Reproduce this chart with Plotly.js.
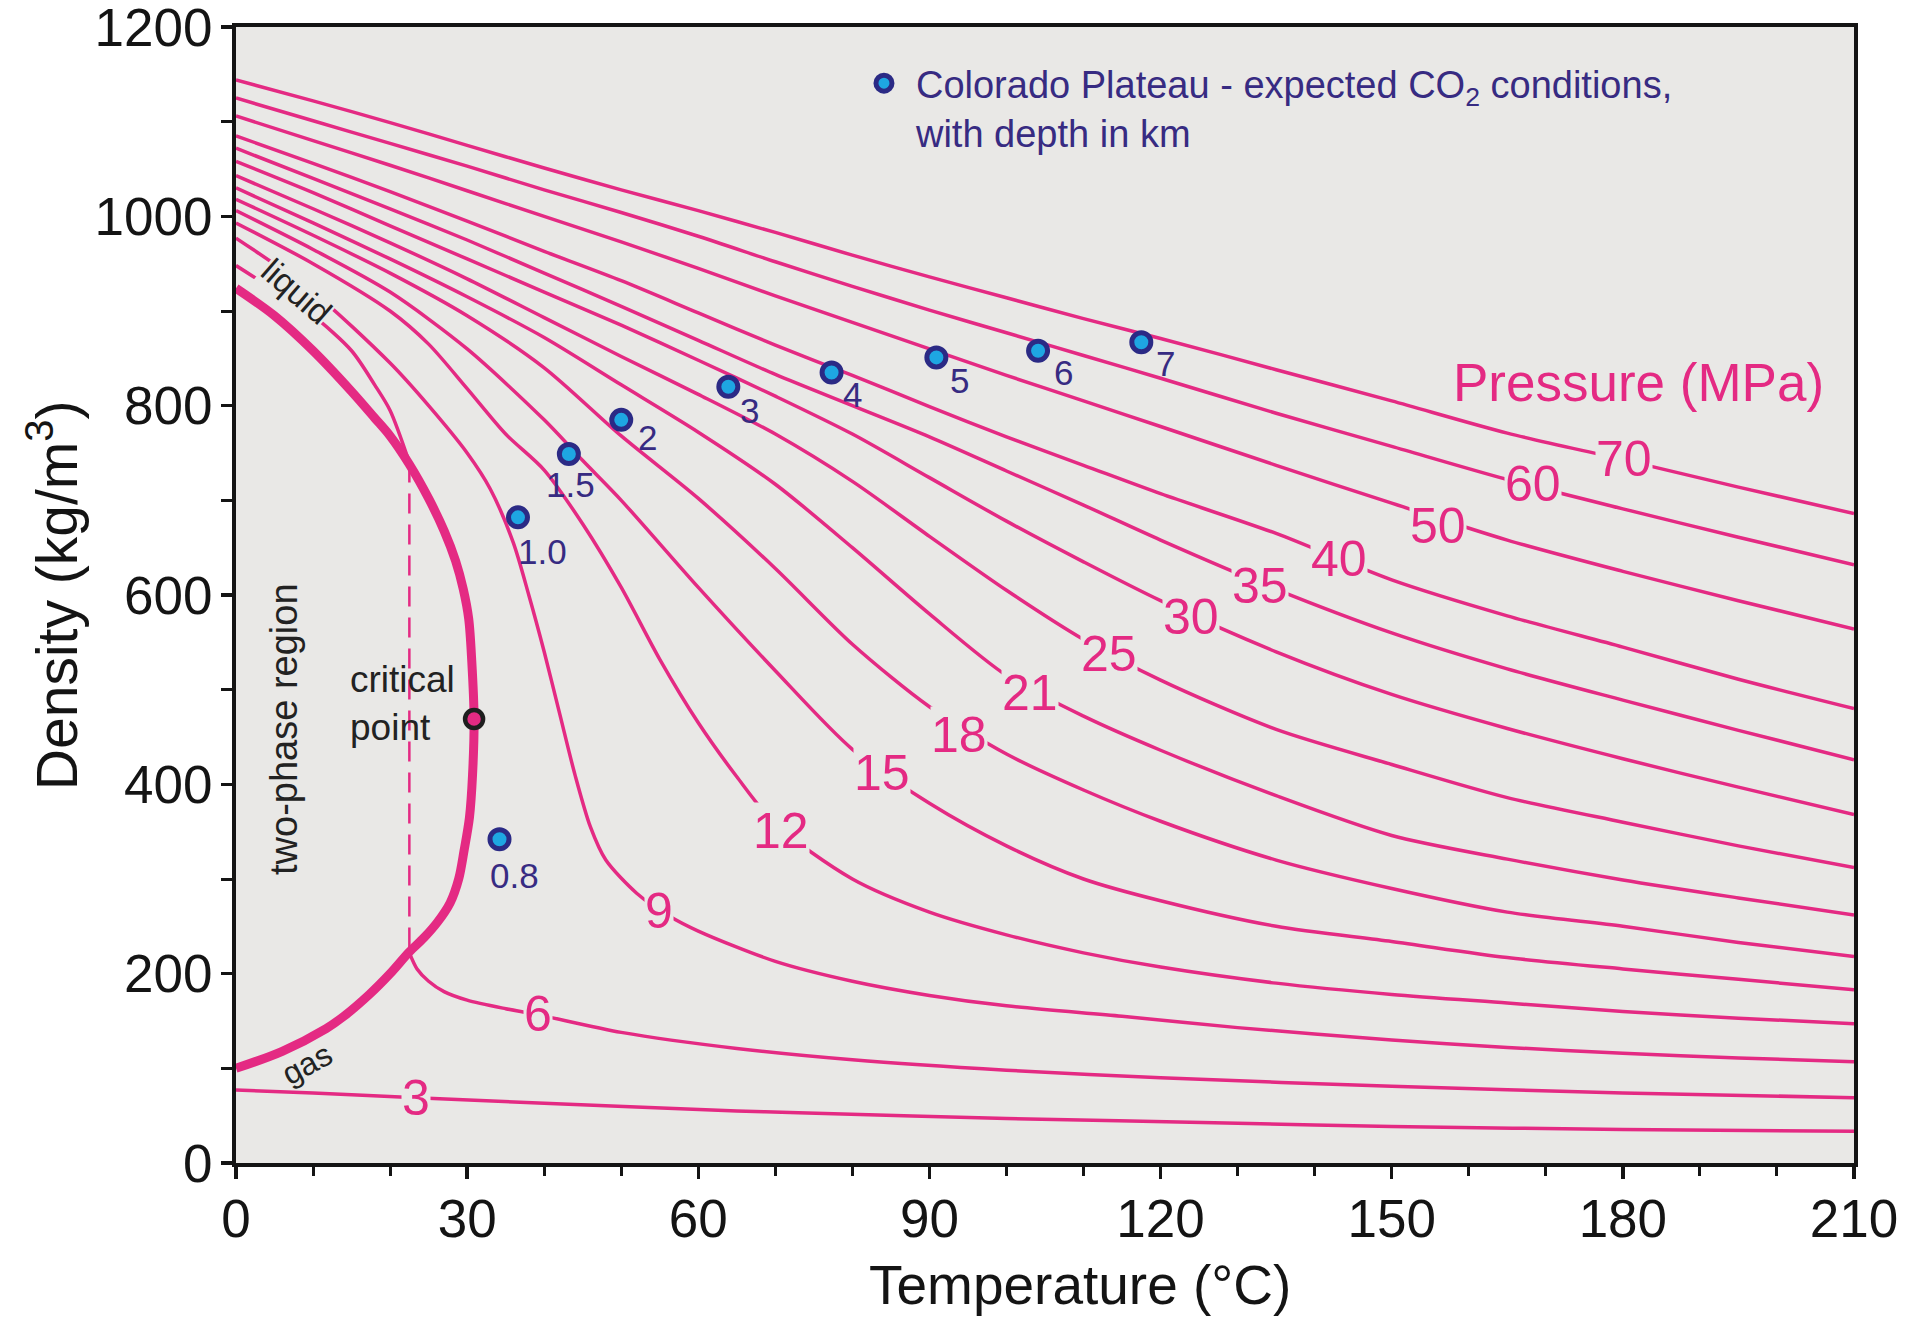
<!DOCTYPE html>
<html>
<head>
<meta charset="utf-8">
<script src="https://cdn.plot.ly/plotly-3.0.1.min.js"></script>
<style>
html,body{margin:0;padding:0;background:#ffffff;}
#chart{width:1915px;height:1317px;}
</style>
</head>
<body>
<div id="chart"></div>
<script>
// ---------------- DATA ----------------
// common temperature grid (°C) for the higher-pressure isobars
const T_std = [0,10,20,30,40,50,60,70,80,90,100,110,120,135,150,165,180,195,210];

// density (kg/m3) of each isobar on T_std
const rho_70 = [1144,1122,1099,1075,1051,1028,1006,983,959,936,914,892,871,838,805,771,743,714,686];
const rho_60 = [1125,1101,1077,1053,1028,1004,979,952,926,901,877,853,829,792,757,722,691,661,632];
const rho_50 = [1106,1080,1054,1027,1000,973,945,916,888,860,832,805,778,737,697,658,625,594,564];
const rho_40 = [1085,1056,1026,995,963,932,898,864,832,799,767,737,707,665,616,578,545,511,480];
const rho_35 = [1072,1040,1008,975,940,905,869,833,800,767,731,695,658,606,560,522,489,457,426];
const rho_30 = [1058,1025,990,955,920,885,848,810,770,724,678,635,594,540,495,459,427,397,368];
const rho_25 = [1043,1008,972,934,893,852,812,770,720,662,605,553,510,458,421,386,360,335,312];
const rho_21 = [1030,993,955,915,872,822,772,717,650,580,515,472,436,388,346,321,299,280,262];
const rho_18 = [1018,980,940,895,840,768,702,628,548,482,432,394,361,320,290,265,250,233,218];

const T_15   = [0,10,20,30,40,45,50,60,70,80,90,100,110,120,135,150,165,180,195,210];
const rho_15 = [1006,965,920,860,785,742,700,608,520,437,380,335,300,277,250,234,217,205,194,183];

const T_12   = [0,10,20,25,30,35,40,45,50,55,60,65,70,80,90,100,110,120,135,150,165,180,195,210];
const rho_12 = [993,950,900,865,818,770,732,675,608,532,465,408,358,300,265,241,222,207,190,178,169,160,153,147];

const T_9    = [0,10,20,25,30,33,36,38,40,42,44,46,48,52,56,60,70,80,90,100,115,130,150,165,180,195,210];
const rho_9  = [977,920,845,800,750,712,655,600,540,475,410,355,320,285,262,245,213,192,177,166,155,143,130,122,116,111,107];

// 6 MPa: liquid branch, two-phase tie line, gas branch
const T_6liq   = [0,5,10,15,18,20,22.5];
const rho_6liq = [948,922,895,858,822,795,740];
const T_6tie   = [22.5,22.5];
const rho_6tie = [740,222];
const T_6gas   = [22.5,23.5,25,27,30,35,39,50,65,80,100,120,150,180,210];
const rho_6gas = [222,205,192,181,172,163,157,138,121,109,98,90,81,74,69];

const T_3    = [0,10,23.4,40,65,73,100,130,150,180,210];
const rho_3  = [77,74,69,63,55,53,47,42,38.5,35.5,33.5];

// saturation (two-phase) boundary: liquid branch then gas branch
const T_sat   = [0,5,10,15,18,20,22.5,25,27,28.5,29.5,30.2,30.6,30.9,30.7,30.3,29.6,28.9,27.8,26.2,24.4,22.5,20,17.3,14,11.7,6,0];
const rho_sat = [924,895,858,815,787,768,738,702,668,636,606,575,530,469,410,365,330,300,275,255,238,223,200,178,155,142,118,100];

// critical point
const T_crit = [30.9];
const rho_crit = [469];

// isobar labels (MPa) and where they sit
const pressures = [70,60,50,40,35,30,25,21,18,15,12,9,6,3];
const label_T   = [180.1,168.4,156,143.1,132.9,124,113.3,103.1,93.9,83.9,70.7,54.9,39.2,23.4];
const label_rho = [744,717,673,638,610,577,538,496,452,412,351,266,157,69];

// Colorado Plateau expected CO2 conditions, depth in km
const depth_km  = ['0.8','1.0','1.5','2','3','4','5','6','7'];
const T_dots    = [34.2,36.6,43.2,50.0,63.9,77.3,90.9,104.1,117.5];
const rho_dots  = [342,682,749,785,820,835,851,858,867];

// ---------------- STYLE ----------------
const FONT = '"Liberation Sans", Arial, Helvetica, sans-serif';
const PINK = '#e42a83';
const BG = '#e9e8e6';
const NAVY = '#372b82';
const INK = '#141414';
// label offsets (px) of the depth labels relative to their dot
const dotLabelDx = [15,25,2,26,21,21,23,25,24];
const dotLabelDy = [36,34,31,18,24,22,23,22,21];

// ---------------- TRACES ----------------
const isobarSeries = [
  [T_std, rho_70],[T_std, rho_60],[T_std, rho_50],[T_std, rho_40],[T_std, rho_35],
  [T_std, rho_30],[T_std, rho_25],[T_std, rho_21],[T_std, rho_18],[T_15, rho_15],
  [T_12, rho_12],[T_9, rho_9],[T_6liq, rho_6liq],[T_6gas, rho_6gas],[T_3, rho_3]
];

const traces = isobarSeries.map(s => ({
  x: s[0], y: s[1], type: 'scatter', mode: 'lines',
  line: {color: PINK, width: 3.5, shape: 'spline', smoothing: 0.8},
  hoverinfo: 'skip', showlegend: false
}));

traces.push({
  x: T_6tie, y: rho_6tie, type: 'scatter', mode: 'lines',
  line: {color: PINK, width: 2.5, dash: '20px,11px'},
  hoverinfo: 'skip', showlegend: false
});

traces.push({
  x: T_sat, y: rho_sat, type: 'scatter', mode: 'lines',
  line: {color: PINK, width: 9, shape: 'spline', smoothing: 0.9},
  hoverinfo: 'skip', showlegend: false
});

traces.push({
  x: T_crit, y: rho_crit, type: 'scatter', mode: 'markers',
  marker: {size: 18, color: PINK, line: {color: '#1e1e1e', width: 4.5}},
  hoverinfo: 'skip', showlegend: false
});

traces.push({
  x: T_dots, y: rho_dots, type: 'scatter', mode: 'markers',
  name: 'Colorado Plateau - expected CO<sub>2</sub> conditions,<br>with depth in km',
  marker: {size: 19, color: '#1ea6e2', line: {color: '#2b2a85', width: 5}},
  showlegend: true
});

// ---------------- ANNOTATIONS ----------------
const annotations = [];

pressures.forEach((p, i) => {
  annotations.push({
    x: label_T[i], y: label_rho[i], xref: 'x', yref: 'y', text: String(p),
    showarrow: false, font: {family: FONT, size: 50, color: PINK},
    bgcolor: BG, borderpad: 0, xanchor: 'center', yanchor: 'middle'
  });
});

depth_km.forEach((d, i) => {
  annotations.push({
    x: T_dots[i], y: rho_dots[i], xref: 'x', yref: 'y', text: d,
    showarrow: false, font: {family: FONT, size: 35, color: NAVY},
    xshift: dotLabelDx[i], yshift: -dotLabelDy[i], xanchor: 'center', yanchor: 'middle'
  });
});

annotations.push(
  {x: 182, y: 825, xref: 'x', yref: 'y', text: 'Pressure (MPa)', showarrow: false,
   font: {family: FONT, size: 53, color: PINK}, xanchor: 'center', yanchor: 'middle'},
  {x: 14.5, y: 485, xref: 'x', yref: 'y', text: 'critical<br>point', showarrow: false, align: 'left',
   font: {family: FONT, size: 37, color: '#222222'}, xanchor: 'left', yanchor: 'middle'},
  {x: 6.3, y: 458, xref: 'x', yref: 'y', text: 'two-phase region', showarrow: false, textangle: -90,
   font: {family: FONT, size: 38, color: '#222222'}, xanchor: 'center', yanchor: 'middle'},
  {x: 7.8, y: 921, xref: 'x', yref: 'y', text: 'liquid', showarrow: false, textangle: 41,
   font: {family: FONT, size: 34, color: '#222222'}, bgcolor: BG, borderpad: 0,
   xanchor: 'center', yanchor: 'middle'},
  {x: 9.2, y: 105, xref: 'x', yref: 'y', text: 'gas', showarrow: false, textangle: -28,
   font: {family: FONT, size: 32, color: '#222222'}, xanchor: 'center', yanchor: 'middle'},
  {x: 109.5, y: -0.107, xref: 'x', yref: 'paper', text: 'Temperature (°C)', showarrow: false,
   font: {family: FONT, size: 55, color: INK}, xanchor: 'center', yanchor: 'middle'},
  {x: -0.113, y: 0.5, xref: 'paper', yref: 'paper', text: 'Density (kg/m<sup>3</sup>)', showarrow: false,
   textangle: -90, font: {family: FONT, size: 57, color: INK}, xanchor: 'center', yanchor: 'middle'}
);

// ---------------- LAYOUT ----------------
const axisCommon = {
  ticks: 'outside', tickwidth: 3.5, tickcolor: INK,
  showline: true, linewidth: 4, linecolor: INK, mirror: true,
  showgrid: false, zeroline: false, fixedrange: true,
  ticklabeloverflow: 'allow',
  tickfont: {family: FONT, size: 53, color: INK}
};

const layout = {
  width: 1915, height: 1317, autosize: false,
  margin: {l: 236, r: 61, t: 27, b: 154, pad: 0},
  paper_bgcolor: '#ffffff', plot_bgcolor: BG,
  font: {family: FONT, color: INK},
  showlegend: true,
  legend: {
    x: 0.3807, y: 0.978, xanchor: 'left', yanchor: 'top',
    bgcolor: 'rgba(0,0,0,0)', borderwidth: 0,
    font: {family: FONT, size: 38, color: NAVY},
    itemwidth: 54, valign: 'top', itemclick: false, itemdoubleclick: false
  },
  xaxis: Object.assign({}, axisCommon, {
    range: [0, 210], tickmode: 'linear', tick0: 0, dtick: 30, ticklen: 12,
    ticklabelstandoff: -6,
    minor: {ticks: 'outside', tick0: 0, dtick: 10, ticklen: 9, tickwidth: 3, tickcolor: INK, showgrid: false}
  }),
  yaxis: Object.assign({}, axisCommon, {
    range: [0, 1200], tickmode: 'linear', tick0: 0, dtick: 200, ticklen: 11,
    ticklabelstandoff: -2,
    minor: {ticks: 'outside', tick0: 0, dtick: 100, ticklen: 11, tickwidth: 3, tickcolor: INK, showgrid: false}
  }),
  annotations: annotations
};

Plotly.newPlot('chart', traces, layout, {staticPlot: true, displayModeBar: false});
</script>
</body>
</html>
